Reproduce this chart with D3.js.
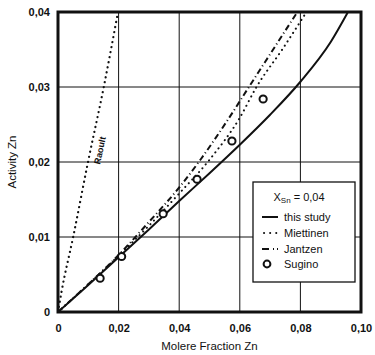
<!DOCTYPE html>
<html><head><meta charset="utf-8">
<script src="https://cdn.jsdelivr.net/npm/d3@7"></script>
<style>body{margin:0;background:#fff}svg{display:block}text{font-family:"Liberation Sans",Arial,sans-serif;fill:#111}</style>
</head><body><div id="chart"></div>
<script>
const xTicks = [0, 0.02, 0.04, 0.06, 0.08, 0.10];
const yTicks = [0, 0.01, 0.02, 0.03, 0.04];
const xTickLabels = ["0", "0,02", "0,04", "0,06", "0,08", "0,10"];
const yTickLabels = ["0", "0,01", "0,02", "0,03", "0,04"];
const raoult = [[0,0],[0.0013,0.003],[0.005,0.01],[0.0099,0.02],[0.0151,0.03],[0.0198,0.04]];
const thisStudy = [[0,0],[0.01,0.0036],[0.02,0.0073],[0.03,0.0110],[0.04,0.0148],[0.05,0.0185],[0.06,0.0223],[0.07,0.0263],[0.08,0.0307],[0.09,0.0360],[0.0957,0.04]];
const miettinen = [[0,0],[0.01,0.0037],[0.02,0.0075],[0.03,0.0115],[0.04,0.0158],[0.05,0.0203],[0.06,0.0259],[0.0655,0.030],[0.074,0.035],[0.082,0.04]];
const jantzen = [[0,0],[0.01,0.0037],[0.02,0.0076],[0.03,0.0120],[0.04,0.0166],[0.047,0.0203],[0.056,0.0256],[0.063,0.030],[0.071,0.035],[0.079,0.04]];
const sugino = [[0.0139,0.0045],[0.021,0.0074],[0.0347,0.0131],[0.0459,0.0177],[0.0574,0.0228],[0.0677,0.0284]];
const legendTitle = "X";
const legendItems = ["this study","Miettinen","Jantzen","Sugino"];

const W=375,H=355;
const svg=d3.select("#chart").append("svg").attr("width",W).attr("height",H);
const x=d3.scaleLinear().domain([0,0.10]).range([58,361]);
const y=d3.scaleLinear().domain([0,0.04]).range([312,12]);

// grid
svg.append("g").selectAll("line").data(xTicks.slice(1,-1)).join("line")
  .attr("x1",d=>x(d)).attr("x2",d=>x(d)).attr("y1",y(0)).attr("y2",y(0.04))
  .attr("stroke","#111").attr("stroke-width",1);
svg.append("g").selectAll("line").data(yTicks.slice(1,-1)).join("line")
  .attr("y1",d=>y(d)).attr("y2",d=>y(d)).attr("x1",x(0)).attr("x2",x(0.1))
  .attr("stroke","#111").attr("stroke-width",1);

// axes (labels only)
const xAxis=d3.axisBottom(x).tickValues(xTicks).tickFormat((d,i)=>xTickLabels[i]).tickSize(0).tickPadding(12);
const gx=svg.append("g").attr("transform",`translate(0,${y(0)})`).call(xAxis);
gx.select(".domain").remove();
gx.selectAll("text").style("font-size","11px").style("font-weight","bold").attr("fill","#111");
const yAxis=d3.axisLeft(y).tickValues(yTicks).tickFormat((d,i)=>yTickLabels[i]).tickSize(0).tickPadding(8);
const gy=svg.append("g").attr("transform",`translate(${x(0)},0)`).call(yAxis);
gy.select(".domain").remove();
gy.selectAll("text").style("font-size","11px").style("font-weight","bold").attr("fill","#111");

const clip=svg.append("clipPath").attr("id","c").append("rect")
  .attr("x",x(0)).attr("y",y(0.04)).attr("width",x(0.1)-x(0)).attr("height",y(0)-y(0.04));
const line=d3.line().x(d=>x(d[0])).y(d=>y(d[1])).curve(d3.curveMonotoneX);
const g=svg.append("g").attr("clip-path","url(#c)");
g.append("path").attr("d",line(raoult)).attr("fill","none").attr("stroke","#111").attr("stroke-width",2.2).attr("stroke-dasharray","0.1 5").attr("stroke-linecap","round");
g.append("path").attr("d",line(miettinen)).attr("fill","none").attr("stroke","#111").attr("stroke-width",2).attr("stroke-dasharray","0.1 5").attr("stroke-linecap","round");
g.append("path").attr("d",line(jantzen)).attr("fill","none").attr("stroke","#111").attr("stroke-width",2).attr("stroke-dasharray","6 3 1 3");
g.append("path").attr("d",line(thisStudy)).attr("fill","none").attr("stroke","#111").attr("stroke-width",2);
g.selectAll("circle").data(sugino).join("circle").attr("cx",d=>x(d[0])).attr("cy",d=>y(d[1])).attr("r",3.6)
  .attr("fill","#fff").attr("stroke","#111").attr("stroke-width",2);

// frame
svg.append("rect").attr("x",x(0)).attr("y",y(0.04)).attr("width",x(0.1)-x(0)).attr("height",y(0)-y(0.04))
  .attr("fill","none").attr("stroke","#111").attr("stroke-width",3);

// Raoult label
svg.append("text").attr("transform",`translate(103,151) rotate(-78)`).attr("text-anchor","middle")
  .style("font-size","9px").style("font-weight","bold").text("Raoult");

// legend
const lg=svg.append("g");
lg.append("rect").attr("x",253).attr("y",182).attr("width",102).attr("height",100).attr("fill","#fff").attr("stroke","#111").attr("stroke-width",1.3);
const tt=lg.append("text").attr("x",299).attr("y",201).attr("text-anchor","middle").style("font-size","11px");
tt.append("tspan").text(legendTitle);
tt.append("tspan").attr("dy",2).style("font-size","8px").text("Sn");
tt.append("tspan").attr("dy",-2).text(" = 0,04");
const ly=[217,233,249,264];
lg.append("line").attr("x1",262).attr("x2",278).attr("y1",ly[0]).attr("y2",ly[0]).attr("stroke","#111").attr("stroke-width",2);
lg.append("line").attr("x1",264).attr("x2",278).attr("y1",ly[1]).attr("y2",ly[1]).attr("stroke","#111").attr("stroke-width",2).attr("stroke-dasharray","0.1 6").attr("stroke-linecap","round");
lg.append("line").attr("x1",262).attr("x2",278).attr("y1",ly[2]).attr("y2",ly[2]).attr("stroke","#111").attr("stroke-width",2).attr("stroke-dasharray","7 4 1 3");
lg.append("circle").attr("cx",267).attr("cy",ly[3]).attr("r",3.4).attr("fill","#fff").attr("stroke","#111").attr("stroke-width",2);
lg.selectAll("text.li").data(legendItems).join("text").attr("class","li").attr("x",284).attr("y",(d,i)=>ly[i]+4)
  .style("font-size","11px").text(d=>d);

// axis titles
svg.append("text").attr("x",(x(0)+x(0.1))/2).attr("y",350).attr("text-anchor","middle").style("font-size","11.5px").text("Molere Fraction Zn");
svg.append("text").attr("transform",`translate(16,162) rotate(-90)`).attr("text-anchor","middle").style("font-size","11.5px").text("Activity Zn");
</script></body></html>
